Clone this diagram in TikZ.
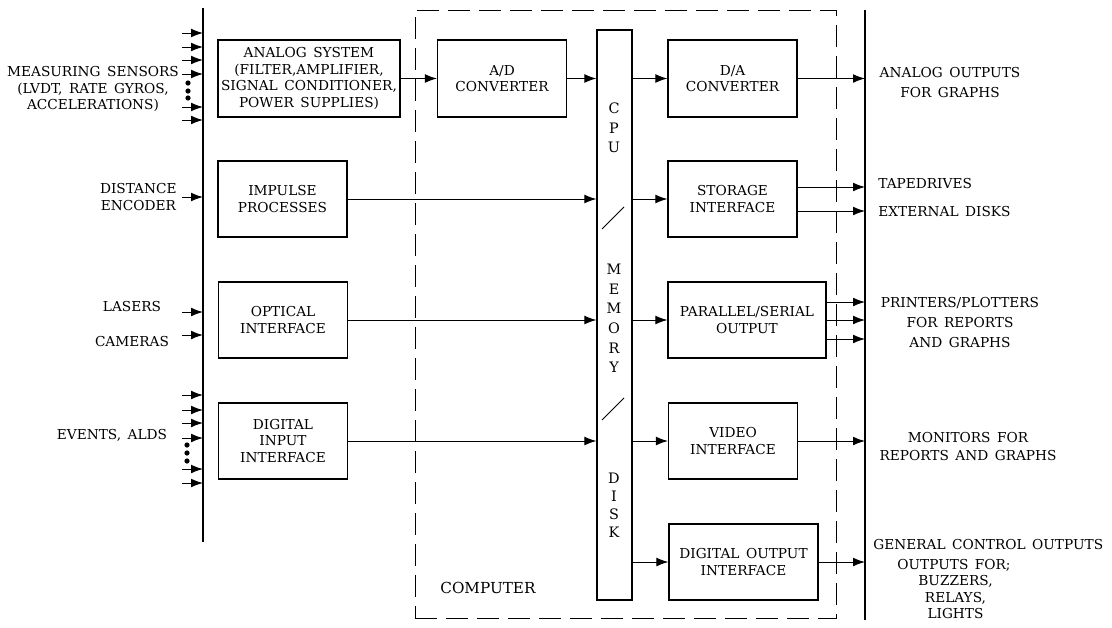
\documentclass[tikz,border=0pt]{standalone}
\usepackage{fontspec}
\setmainfont{DejaVu Serif}[WordSpace=1.5]
\usetikzlibrary{positioning,arrows.meta}

\begin{document}
\begin{tikzpicture}[
    x=0.5pt, y=-0.5pt,
    font=\fontsize{6.85}{8.2}\selectfont,
    >={Latex[length=6pt,width=4.4pt]},
    node distance=2.5pt,
    box/.style    ={draw, line width=0.55pt, align=center, inner sep=0.5pt,
                    minimum width=64.5pt, minimum height=38pt},
    cpubar/.style ={draw, line width=0.55pt,
                    minimum width=17.5pt, minimum height=285pt},
    dashbox/.style={draw, line width=0.5pt, dash pattern=on 11pt off 4.5pt,
                    minimum width=210.5pt, minimum height=304pt},
    bus/.style    ={line width=0.8pt},
    arr/.style    ={->, line width=0.5pt},
    lbl/.style    ={align=center, inner sep=0pt},
    widelbl/.style={lbl, font=\fontsize{6.85}{10}\selectfont},
    vlbl/.style   ={lbl, font=\fontsize{7.2}{9.8}\selectfont},
    dot/.style    ={circle, fill, inner sep=0pt, minimum size=2.6pt},
]
\useasboundingbox (0,0) rectangle (1112,627);

% =========================================================
% Bus lines and computer frame
% =========================================================
\coordinate (lbusT) at (203,8);
\coordinate (lbusB) at (203,542);
\coordinate (rbusT) at (865,10);
\coordinate (rbusB) at (865,620);
\draw[bus] (lbusT) -- (lbusB);
\draw[bus] (rbusT) -- (rbusB);

\node[dashbox] (comp) at (625.5,314) {};
\node[lbl, anchor=west, font=\fontsize{7.6}{9}\selectfont] (complbl) at (440,588) {COMPUTER};

% =========================================================
% Left column: signal conditioning
% =========================================================
\node[box, minimum width=91pt, minimum height=38.5pt] (ana) at (309,78.5)
    {ANALOG SYSTEM\\(FILTER,AMPLIFIER,\\SIGNAL CONDITIONER,\\POWER SUPPLIES)};
\node[box] (imp) at (282.5,199) {IMPULSE\\PROCESSES};
\node[box] (opt) at (283,320)   {OPTICAL\\INTERFACE};
\node[box] (din) at (283,441)   {DIGITAL\\INPUT\\INTERFACE};

% =========================================================
% Computer: converters, CPU bar, interfaces
% =========================================================
\node[box, minimum height=38.5pt] (ad) at (502,78.5) {A/D\\CONVERTER};
\node[cpubar] (cpu) at (614.5,315) {};
\node[vlbl] (cpulbl) at (614,128)   {C\\P\\U};
\node[vlbl] (memlbl) at (614,318.5) {M\\E\\M\\O\\R\\Y};
\node[vlbl, font=\fontsize{7.2}{9}\selectfont] (disklbl) at (614,505.5) {D\\I\\S\\K};
\draw[line width=0.45pt] (602,229) -- (624,207);
\draw[line width=0.45pt] (602,420) -- (624,398);

\node[box, minimum height=38.5pt] (da) at (732.5,78.5) {D/A\\CONVERTER};
\node[box] (sto) at (732.5,199) {STORAGE\\INTERFACE};
\node[box, minimum width=79pt] (par) at (747,320) {PARALLEL/SERIAL\\OUTPUT};
\node[box] (vid) at (733,441) {VIDEO\\INTERFACE};
\node[box, minimum width=74.5pt] (dout) at (743.5,562) {DIGITAL OUTPUT\\INTERFACE};

% into the CPU
\draw[arr] (ana.east) -- (ad.west);
\draw[arr] (ad.east)  -- (ad.east -| cpu.west);
\draw[arr] (imp.east) -- (imp.east -| cpu.west);
\draw[arr] (opt.east) -- (opt.east -| cpu.west);
\draw[arr] (din.east) -- (din.east -| cpu.west);

% out of the CPU
\draw[arr] (cpu.east |- da.west)   -- (da.west);
\draw[arr] (cpu.east |- sto.west)  -- (sto.west);
\draw[arr] (cpu.east |- par.west)  -- (par.west);
\draw[arr] (cpu.east |- vid.west)  -- (vid.west);
\draw[arr] (cpu.east |- dout.west) -- (dout.west);

% =========================================================
% Inputs on the left bus
% =========================================================
\foreach \y [count=\i] in {33,47,60,74,107,120} {
    \coordinate (ms\i) at (182,\y);
    \draw[arr] (ms\i) -- (ms\i -| lbusT);
}
\foreach \y [count=\i] in {83,91,98}
    \node[dot] (msdot\i) at (188,\y) {};
\node[lbl] (mslbl) at (93,89)
    {MEASURING SENSORS\\(LVDT, RATE GYROS,\\ACCELERATIONS)};

\coordinate (de) at (182,197);
\draw[arr] (de) -- (de -| lbusT);
\node[lbl, left=of de] (delbl) {DISTANCE\\ENCODER};

\coordinate (las) at (182,312);
\coordinate (cam) at (182,335);
\draw[arr] (las) -- (las -| lbusT);
\draw[arr] (cam) -- (cam -| lbusT);
\node[lbl] (laslbl) at (132,307) {LASERS};
\node[lbl] (camlbl) at (132,342) {CAMERAS};

\foreach \y [count=\i] in {395,410,423,438,469,483} {
    \coordinate (ev\i) at (182,\y);
    \draw[arr] (ev\i) -- (ev\i -| lbusT);
}
\foreach \y [count=\i] in {445,453,461}
    \node[dot] (evdot\i) at (187,\y) {};
\node[lbl] (evlbl) at (112,435) {EVENTS, ALDS};

% =========================================================
% Outputs on the right bus
% =========================================================
\draw[arr] (da.east) -- (da.east -| rbusT);
\node[widelbl] (aolbl) at (950,83) {ANALOG OUTPUTS\\FOR GRAPHS};

\foreach \dy [count=\i] in {6,-6} {
    \path ([yshift=\dy pt]sto.east) coordinate (so\i);
    \draw[arr] (so\i) -- (so\i -| rbusT);
}
\node[lbl, anchor=west] (tplbl) at (878,184) {TAPEDRIVES};
\node[lbl, anchor=west] (edlbl) at (878,212) {EXTERNAL DISKS};

\foreach \dy [count=\i] in {9,0,-9.5} {
    \path ([yshift=\dy pt]par.east) coordinate (po\i);
    \draw[arr] (po\i) -- (po\i -| rbusT);
}
\node[widelbl] (prlbl) at (960,323) {PRINTERS/PLOTTERS\\FOR REPORTS\\AND GRAPHS};

\draw[arr] (vid.east) -- (vid.east -| rbusT);
\node[widelbl, font=\fontsize{6.85}{9}\selectfont] (molbl) at (968,447)
    {MONITORS FOR\\REPORTS AND GRAPHS};

\draw[arr] (dout.east) -- (dout.east -| rbusT);
\node[lbl, anchor=west] (gclbl) at (873,545) {GENERAL CONTROL OUTPUTS};
\node[lbl, anchor=north west, font=\fontsize{6.85}{8.2}\selectfont] (oflbl) at (897,559)
    {OUTPUTS FOR;\\\hspace*{1.5pt}BUZZERS,\\\hspace*{1.5pt}RELAYS,\\\hspace*{1.5pt}LIGHTS};

\end{tikzpicture}
\end{document}
